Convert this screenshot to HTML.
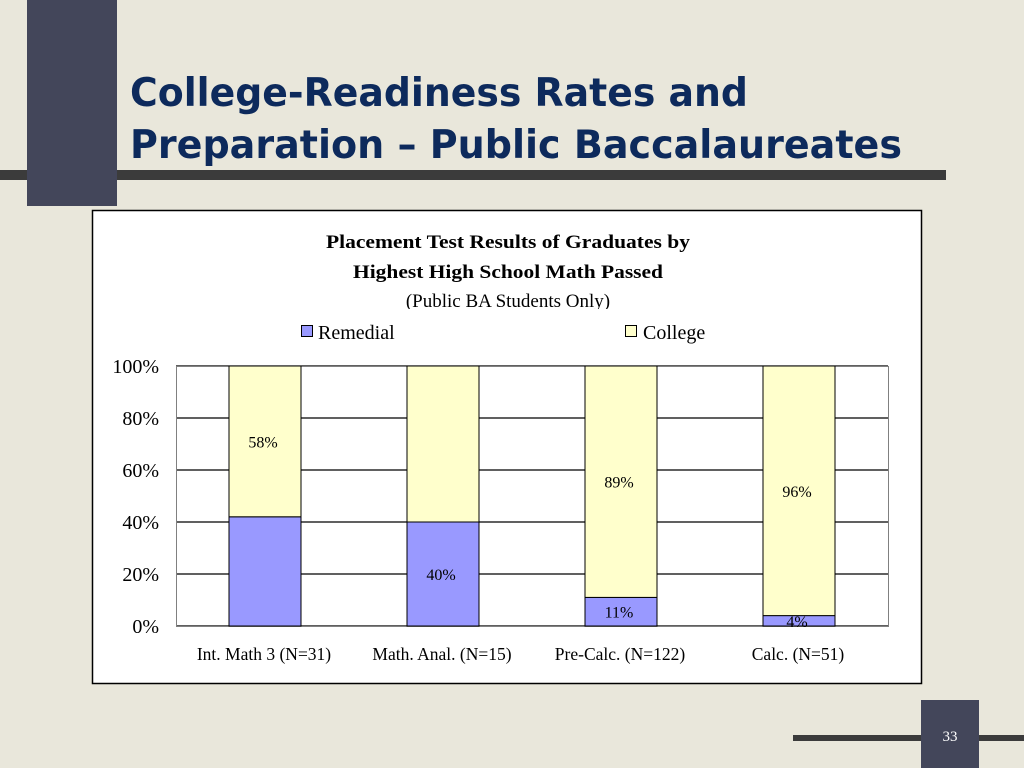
<!DOCTYPE html>
<html><head><meta charset="utf-8"><style>
html,body{margin:0;padding:0;background:#e9e7db;}
svg{display:block;font-family:"Liberation Serif",serif;}
</style></head><body>
<svg width="1024" height="768" viewBox="0 0 1024 768" xmlns="http://www.w3.org/2000/svg" id="chart">
<rect x="0" y="0" width="1024" height="768" fill="#e9e7db"/>
<rect x="0" y="170" width="946" height="10" fill="#3b3b3b"/>
<rect x="27" y="0" width="90" height="206" fill="#43465a"/>
<text x="130" y="106" font-family="'DejaVu Sans',sans-serif" font-weight="bold" font-size="39" fill="#0d2a5c" textLength="618" lengthAdjust="spacingAndGlyphs">College-Readiness Rates and</text>
<text x="130" y="158" font-family="'DejaVu Sans',sans-serif" font-weight="bold" font-size="39" fill="#0d2a5c" textLength="772" lengthAdjust="spacingAndGlyphs">Preparation – Public Baccalaureates</text>
<rect x="92.5" y="210.5" width="829" height="473" fill="#fff" stroke="#000" stroke-width="1.5"/>
<text x="508" y="248" text-anchor="middle" font-weight="bold" font-size="19" textLength="364" lengthAdjust="spacingAndGlyphs">Placement Test Results of Graduates by</text>
<text x="508" y="278" text-anchor="middle" font-weight="bold" font-size="19" textLength="310" lengthAdjust="spacingAndGlyphs">Highest High School Math Passed</text>
<text x="508" y="307" text-anchor="middle" font-size="19">(Public BA Students Only)</text>
<rect x="95" y="309" width="824" height="10" fill="#fff"/>
<g>
<rect x="301.5" y="325.5" width="11" height="11" fill="#9999ff" stroke="#000"/>
<text x="318" y="339" font-size="20">Remedial</text>
<rect x="625.5" y="325.5" width="11" height="11" fill="#ffffcc" stroke="#000"/>
<text x="643" y="339" font-size="20">College</text>
</g>
<g id="plot"></g>
<rect x="793" y="735" width="231" height="6" fill="#3b3b3b"/>
<rect x="921" y="700" width="58" height="68" fill="#43465a"/>
<text x="950" y="741" text-anchor="middle" font-size="15" fill="#fff">33</text>
</svg>
<script>
const categories = ["Int. Math 3 (N=31)", "Math. Anal. (N=15)", "Pre-Calc. (N=122)", "Calc. (N=51)"];
const remedial = [42, 40, 11, 4];
const college = [58, 60, 89, 96];
const remedialLabels = [null, "40%", "11%", "4%"];
const collegeLabels = ["58%", null, "89%", "96%"];
const yTicks = [0, 20, 40, 60, 80, 100];

const NS = "http://www.w3.org/2000/svg";
const plot = document.getElementById("plot");
const X0 = 176, X1 = 888, Y0 = 626, Y1 = 366;
const band = (X1 - X0) / categories.length;
const barW = 72;
const y = v => Y0 - (v / 100) * (Y0 - Y1);
const xc = i => X0 + band * (i + 0.5);
function mk(tag, attrs, parent) {
  const e = document.createElementNS(NS, tag);
  for (const k in attrs) e.setAttribute(k, attrs[k]);
  (parent || plot).appendChild(e);
  return e;
}
yTicks.forEach(t => {
  const l = mk("line", {x1: X0, x2: X1, y1: y(t), y2: y(t), stroke: "#000", "stroke-width": 1.3});
  
  
  const tx = mk("text", {x: 159, y: y(t) + 7, "text-anchor": "end", "font-size": 20});
  tx.textContent = t + "%";
  
  
});
const frame = mk("rect", {x: X0 + 0.5, y: Y1 + 0.5, width: X1 - X0, height: Y0 - Y1, fill: "none", stroke: "#808080"});


categories.forEach((c, i) => {
  const x = xc(i) - barW / 2;
  const r = mk("rect", {x: x, y: y(remedial[i]), width: barW, height: y(0) - y(remedial[i]), fill: "#9999ff", stroke: "#000"});
  
  
  const top = remedial[i] + college[i];
  const cb = mk("rect", {x: x, y: y(top), width: barW, height: y(remedial[i]) - y(top), fill: "#ffffcc", stroke: "#000"});
  
  
  if (remedialLabels[i]) {
    const t = mk("text", {x: xc(i) - 2, y: y(remedial[i] / 2) + 6, "text-anchor": "middle", "font-size": 16});
    t.textContent = remedialLabels[i];
    
    
  }
  if (collegeLabels[i]) {
    const t = mk("text", {x: xc(i) - 2, y: y(remedial[i] + college[i] / 2) + 6, "text-anchor": "middle", "font-size": 16});
    t.textContent = collegeLabels[i];
    
    
  }
  const lab = mk("text", {x: xc(i) - 1, y: 660, "text-anchor": "middle", "font-size": 17.5});
  lab.textContent = c;
  
  
});
</script>
</body></html>
